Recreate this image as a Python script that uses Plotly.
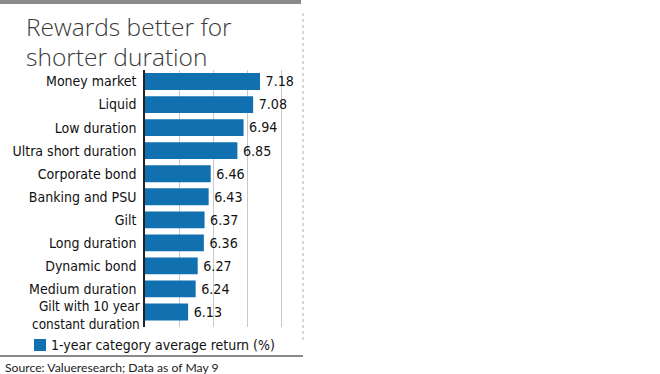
import plotly.graph_objects as go

categories = ["Money market", "Liquid", "Low duration", "Ultra short duration",
              "Corporate bond", "Banking and PSU", "Gilt", "Long duration",
              "Dynamic bond", "Medium duration", "Gilt with 10 year<br>constant duration"]
returns = [7.18, 7.08, 6.94, 6.85, 6.46, 6.43, 6.37, 6.36, 6.27, 6.24, 6.13]
series_name = "1-year category average return (%)"
title_lines = ["Rewards better for", "shorter duration"]
source_text = "Source: Valueresearch; Data as of May 9"

W, H = 660, 374
BAR = "#1070b0"
COND = "DejaVu Sans Condensed, sans-serif"
LABEL_SIZE = 14

fig = go.Figure()
fig.add_trace(go.Bar(
    x=returns, y=categories, orientation="h",
    marker=dict(color=BAR, line=dict(width=0)),
    text=[f"\u2009{v:.2f}" for v in returns], textposition="outside",
    textfont=dict(family=COND, size=16, color="#111"),
    cliponaxis=False, name=series_name, showlegend=False,
))

# single-line labels through the axis, multi-line ones as one right-aligned annotation
ticktext = ["" if "<br>" in c else c for c in categories]
for c in categories:
    if "<br>" in c:
        fig.add_annotation(xref="x domain", yref="y", x=0, y=c, xanchor="right",
                           yanchor="middle", xshift=-4, yshift=-3, align="right",
                           text=c, showarrow=False, borderpad=0,
                           font=dict(family=COND, size=13.5, color="#111"))

fig.update_layout(
    width=W, height=H, margin=dict(l=0, r=0, t=0, b=0),
    paper_bgcolor="white", plot_bgcolor="white",
    bargap=0.27,
    xaxis=dict(domain=[145/W, 299/W], range=[5.5, 7.75], tick0=5.5, dtick=0.5,
               showticklabels=False, showgrid=True, gridcolor="#c8c8c8", gridwidth=1,
               zeroline=False, showline=False, fixedrange=True, automargin=False),
    yaxis=dict(domain=[1-327/H, 1-70/H], autorange="reversed", automargin=False,
               showline=True, linecolor="#222", linewidth=1.5,
               tickmode="array", tickvals=categories, ticktext=ticktext,
               ticks="", ticklabelstandoff=4,
               tickfont=dict(family=COND, size=LABEL_SIZE, color="#111"), showgrid=False),
)

# title (two lines, tight leading)
for i, line in enumerate(title_lines):
    fig.add_annotation(xref="paper", yref="paper", x=24/W, y=1-(8 + 30*i)/H,
                       xanchor="left", yanchor="top",
                       text=line, showarrow=False, align="left",
                       font=dict(family="Open Sans, sans-serif", size=24.5, color="#3a3a3a", weight=300))
# top bar, bottom rule, right dotted border
fig.add_shape(type="rect", xref="paper", yref="paper", x0=0, x1=301/W, y0=1-4/H, y1=1,
              fillcolor="#8a8a8a", line=dict(width=0))
fig.add_shape(type="line", xref="paper", yref="paper", x0=0, x1=303/W, y0=1-356/H, y1=1-356/H,
              line=dict(color="#8a8a8a", width=2))
fig.add_shape(type="line", xref="paper", yref="paper", x0=303/W, x1=303/W, y0=1-340/H, y1=1-12/H,
              line=dict(color="#b0b0b0", width=1, dash="dot"))
# legend
fig.add_shape(type="rect", xref="paper", yref="paper", x0=34/W, x1=46/W, y0=1-351/H, y1=1-339/H,
              fillcolor=BAR, line=dict(width=0))
fig.add_annotation(xref="paper", yref="paper", x=49/W, y=1-345/H, xanchor="left", yanchor="middle",
                   text=series_name, showarrow=False,
                   font=dict(family=COND, size=14, color="#111"))
# source
fig.add_annotation(xref="paper", yref="paper", x=3/W, y=1-367/H, xanchor="left", yanchor="middle",
                   text=source_text, showarrow=False,
                   font=dict(family="Lato, sans-serif", size=12.2, color="#222"))

fig.write_html("out.html", config={"displayModeBar": False},
               post_script="document.body.style.margin='0';document.body.style.padding='0';"
                           "document.documentElement.style.overflow='hidden';")
